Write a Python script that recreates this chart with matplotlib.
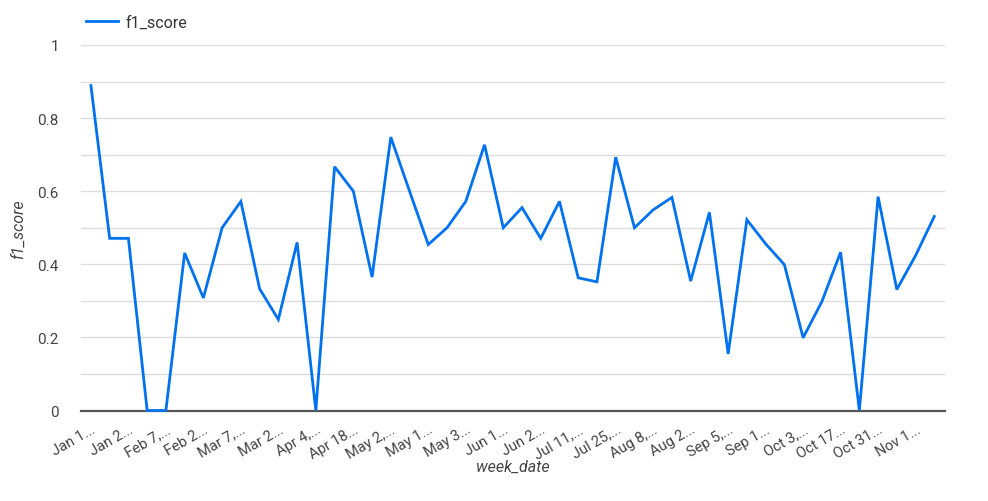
import matplotlib
matplotlib.use("Agg")
import matplotlib.pyplot as plt
import numpy as np

week_labels = ["Jan 1...", "Jan 2...", "Feb 7,...", "Feb 2...", "Mar 7,...", "Mar 2...",
               "Apr 4,...", "Apr 18...", "May 2,...", "May 1...", "May 3...", "Jun 1...",
               "Jun 2...", "Jul 11,...", "Jul 25,...", "Aug 8,...", "Aug 2...", "Sep 5,...",
               "Sep 1...", "Oct 3,...", "Oct 17...", "Oct 31...", "Nov 1..."]

f1_score = [0.889, 0.471, 0.471, 0.0, 0.0, 0.431, 0.308, 0.500, 0.572, 0.333,
            0.249, 0.460, 0.0, 0.667, 0.600, 0.365, 0.748, 0.600, 0.454, 0.500,
            0.572, 0.727, 0.500, 0.555, 0.471, 0.572, 0.363, 0.352, 0.693, 0.500,
            0.549, 0.583, 0.354, 0.542, 0.155, 0.522, 0.456, 0.399, 0.199, 0.298,
            0.433, 0.0, 0.585, 0.331, 0.424, 0.531]

plt.rcParams['font.family'] = ['Roboto', 'DejaVu Sans']

fig = plt.figure(figsize=(9.88, 5.02), dpi=100)
ax = fig.add_axes([81 / 988, 1 - 411.5 / 502, (945 - 81) / 988, (411.5 - 46) / 502])

x = np.arange(len(f1_score))
line, = ax.plot(x, f1_score, color='#0072f0', lw=2.0, solid_joinstyle='miter', zorder=3,
                label='f1_score', clip_on=False)

ax.set_xlim(-0.53, len(f1_score) - 1 + 0.57)
ax.set_ylim(0, 1)

ax.set_yticks(np.arange(0, 1.01, 0.1), minor=True)
ax.set_yticks([0, 0.2, 0.4, 0.6, 0.8, 1.0])
ax.set_yticklabels(['0', '0.2', '0.4', '0.6', '0.8', '1'])
ax.grid(axis='y', which='both', color='#dddddd', lw=1.0, zorder=0)
ax.tick_params(axis='y', which='both', length=0, pad=16, labelsize=11, labelcolor='#444444')

ax.set_xticks(x[::2])
ax.set_xticklabels(week_labels, rotation=30, ha='right', rotation_mode='anchor')
ax.tick_params(axis='x', length=0, pad=8, labelsize=10.5, labelcolor='#444444')

for s in ['top', 'right', 'left']:
    ax.spines[s].set_visible(False)
ax.spines['bottom'].set_color('#555555')
ax.spines['bottom'].set_linewidth(1.6)
ax.spines['bottom'].set_zorder(2)

fig.text(18 / 988, 1 - 229 / 502, 'f1_score', rotation=90, ha='center', va='center',
         fontsize=11.5, style='italic', color='#444444')
fig.text(513 / 988, 1 - 467 / 502, 'week_date', ha='center', va='center',
         fontsize=11.5, style='italic', color='#444444')

leg = fig.legend(handles=[line], loc='upper left', bbox_to_anchor=(73 / 988, 1 - 3 / 502),
                 frameon=False, fontsize=11.5, handlelength=2.0, handletextpad=0.5,
                 borderpad=0.3)
for t in leg.get_texts():
    t.set_color('#333333')

fig.savefig('out.png', dpi=100)
